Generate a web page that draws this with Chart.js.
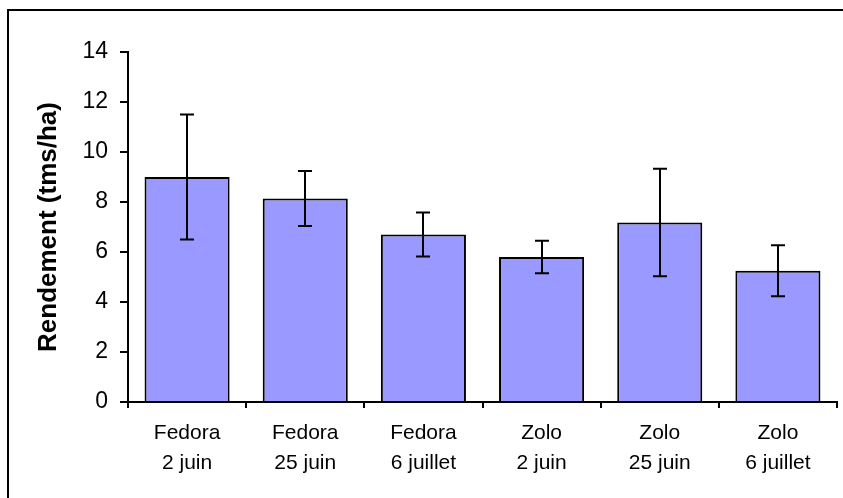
<!DOCTYPE html>
<html lang="fr">
<head>
  <meta charset="UTF-8">
  <title>Rendement</title>
  <script src="https://cdn.jsdelivr.net/npm/chart.js"></script>
  <style>
    body {
      margin: 0;
      padding: 0;
      background: #fff;
      overflow: hidden;
    }
    #wrap {
      position: relative;
      width: 843px;
      height: 498px;
    }
    #frame {
      position: absolute;
      left: 7px;
      top: 9px;
      right: 0;
      bottom: 0;
      border-left: 2px solid #000;
      border-top: 2px solid #000;
    }
    canvas {
      position: absolute;
      left: 0;
      top: 0;
    }
  </style>
</head>
<body>
  <div id="wrap">
    <div id="frame"></div>
    <canvas id="chart" width="843" height="498"></canvas>
  </div>
  <script>
    // Data
    const categories = [
      ['Fedora', '2 juin'],
      ['Fedora', '25 juin'],
      ['Fedora', '6 juillet'],
      ['Zolo', '2 juin'],
      ['Zolo', '25 juin'],
      ['Zolo', '6 juillet']
    ];
    const rendement = [9.0, 8.14, 6.7, 5.8, 7.18, 5.25];
    const ecart = [2.5, 1.1, 0.88, 0.65, 2.15, 1.02];
    const yTicks = [0, 2, 4, 6, 8, 10, 12, 14];

    const FONT = '"Liberation Sans", Arial, sans-serif';

    // error bars drawn through the y scale
    const errorBars = {
      id: 'errorBars',
      afterDatasetsDraw(chart) {
        const ctx = chart.ctx;
        const y = chart.scales.y;
        const meta = chart.getDatasetMeta(0);
        ctx.save();
        ctx.strokeStyle = '#000';
        ctx.lineWidth = 2;
        meta.data.forEach((bar, i) => {
          const x = Math.round(bar.x);
          const top = y.getPixelForValue(rendement[i] + ecart[i]);
          const bot = y.getPixelForValue(rendement[i] - ecart[i]);
          ctx.beginPath();
          ctx.moveTo(x, top);
          ctx.lineTo(x, bot);
          ctx.moveTo(x - 7, top);
          ctx.lineTo(x + 7, top);
          ctx.moveTo(x - 7, bot);
          ctx.lineTo(x + 7, bot);
          ctx.stroke();
        });
        ctx.restore();
      }
    };

    const ctx = document.getElementById('chart').getContext('2d');
    new Chart(ctx, {
      type: 'bar',
      data: {
        labels: categories,
        datasets: [{
          data: rendement,
          backgroundColor: '#9999ff',
          borderColor: '#000',
          borderWidth: 2,
          barPercentage: 0.72,
          categoryPercentage: 1
        }]
      },
      options: {
        responsive: false,
        animation: false,
        layout: { padding: { left: 8, top: 52, right: 6, bottom: 0 } },
        plugins: {
          legend: { display: false },
          tooltip: { enabled: false }
        },
        scales: {
          x: {
            afterFit: s => { s.height = 96; },
            border: { display: true, color: '#000', width: 2 },
            grid: {
              offset: true,
              drawOnChartArea: false,
              color: '#000',
              lineWidth: 2,
              tickLength: 6
            },
            ticks: {
              color: '#000',
              padding: 11,
              maxRotation: 0,
              font: { family: FONT, size: 21, lineHeight: 1.4 }
            }
          },
          y: {
            min: 0,
            max: 14,
            afterFit: s => { s.width = 120; },
            afterBuildTicks: s => { s.ticks = yTicks.map(v => ({ value: v })); },
            border: { display: true, color: '#000', width: 2 },
            grid: {
              drawOnChartArea: false,
              color: '#000',
              lineWidth: 2,
              tickLength: 8
            },
            ticks: {
              color: '#000',
              padding: 12,
              font: { family: FONT, size: 23 }
            },
            title: {
              display: true,
              text: 'Rendement (tms/ha)',
              color: '#000',
              padding: { top: 25 },
              font: { family: FONT, size: 26, weight: 'bold' }
            }
          }
        }
      },
      plugins: [errorBars]
    });
  </script>
</body>
</html>
